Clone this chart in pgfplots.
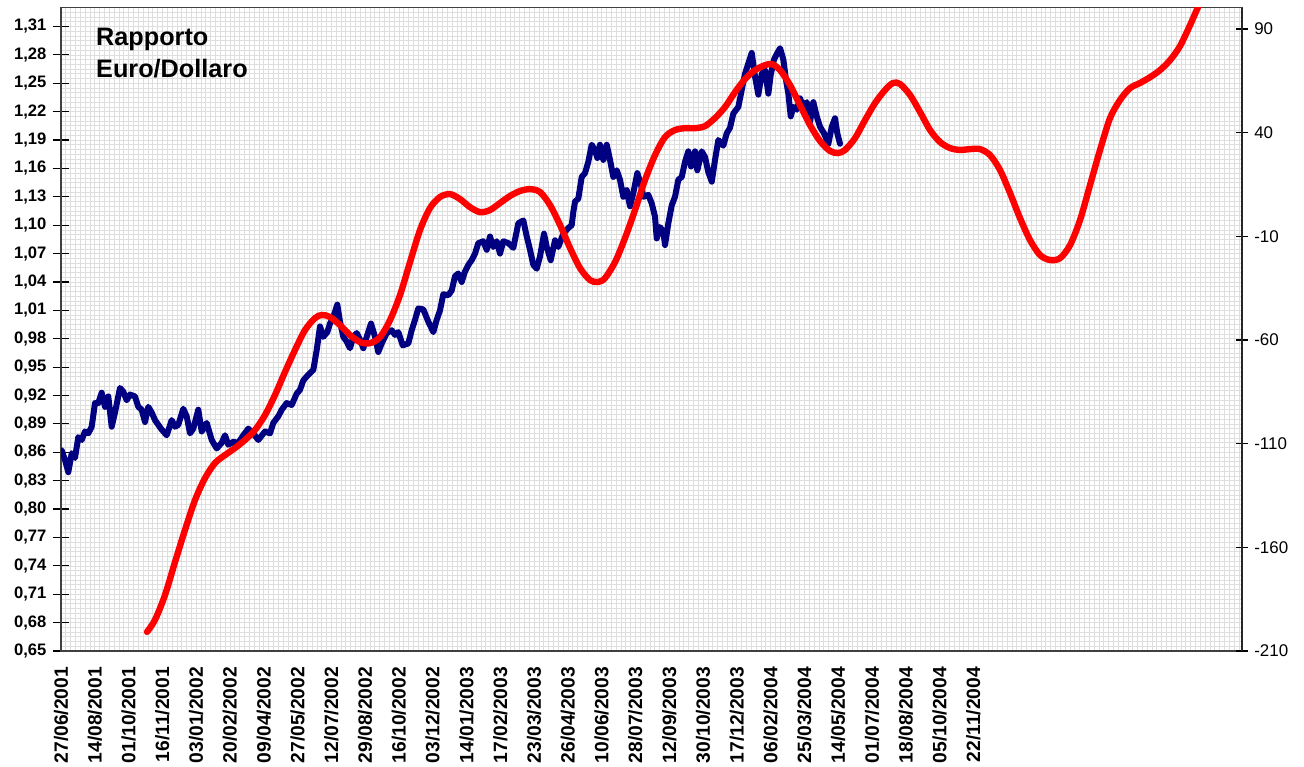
\documentclass[border=0pt]{standalone}
\usepackage{pgfplots}
\pgfplotsset{compat=1.18}
\usepackage{pgfplotstable}
\usepackage{fontspec}
\setmainfont{Liberation Sans}
\definecolor{navyline}{RGB}{0,0,128}
\definecolor{redline}{RGB}{255,0,0}
\definecolor{gridgray}{RGB}{222,222,222}

\pgfplotstableread{
x y
0.020 0.862
0.118 0.852
0.216 0.839
0.317 0.859
0.414 0.854
0.512 0.876
0.613 0.873
0.710 0.882
0.808 0.880
0.909 0.887
1.006 0.912
1.104 0.912
1.204 0.923
1.302 0.908
1.400 0.919
1.500 0.887
1.598 0.902
1.746 0.928
1.844 0.924
1.944 0.915
2.042 0.921
2.190 0.919
2.288 0.908
2.388 0.905
2.486 0.892
2.584 0.908
2.684 0.902
2.782 0.894
2.880 0.889
2.980 0.884
3.128 0.878
3.276 0.894
3.374 0.887
3.471 0.889
3.619 0.906
3.720 0.898
3.818 0.880
3.915 0.885
4.063 0.905
4.164 0.882
4.312 0.891
4.460 0.873
4.608 0.864
4.756 0.870
4.853 0.878
4.951 0.868
5.099 0.871
5.247 0.870
5.395 0.878
5.543 0.885
5.691 0.880
5.839 0.873
6.037 0.882
6.185 0.880
6.283 0.891
6.431 0.898
6.532 0.905
6.680 0.912
6.828 0.910
6.975 0.922
7.073 0.926
7.171 0.936
7.319 0.942
7.467 0.947
7.567 0.968
7.665 0.993
7.763 0.982
7.881 0.987
7.961 0.996
8.059 1.003
8.177 1.016
8.257 0.998
8.355 0.982
8.455 0.977
8.553 0.970
8.651 0.982
8.751 0.986
8.849 0.979
8.947 0.970
9.047 0.982
9.174 0.996
9.293 0.982
9.390 0.966
9.491 0.975
9.639 0.986
9.787 0.989
9.885 0.984
9.982 0.987
10.113 0.973
10.278 0.975
10.379 0.989
10.477 1.000
10.574 1.012
10.722 1.011
10.870 0.998
11.018 0.987
11.119 1.000
11.216 1.010
11.314 1.027
11.462 1.026
11.563 1.031
11.660 1.046
11.758 1.049
11.858 1.040
11.956 1.051
12.054 1.058
12.154 1.063
12.252 1.070
12.350 1.081
12.498 1.083
12.599 1.074
12.696 1.088
12.794 1.077
12.895 1.083
12.992 1.070
13.090 1.083
13.238 1.081
13.386 1.076
13.534 1.102
13.682 1.105
13.783 1.088
13.880 1.074
13.978 1.058
14.078 1.054
14.176 1.067
14.294 1.091
14.374 1.077
14.492 1.063
14.620 1.084
14.717 1.077
14.865 1.091
15.013 1.097
15.114 1.100
15.161 1.114
15.212 1.125
15.309 1.128
15.410 1.151
15.507 1.155
15.605 1.167
15.706 1.185
15.803 1.179
15.872 1.171
15.951 1.185
16.049 1.169
16.150 1.185
16.247 1.169
16.345 1.151
16.446 1.158
16.543 1.148
16.641 1.130
16.742 1.137
16.839 1.120
16.937 1.134
17.055 1.155
17.156 1.144
17.233 1.130
17.381 1.132
17.482 1.123
17.579 1.109
17.630 1.086
17.727 1.098
17.825 1.093
17.875 1.079
17.973 1.102
18.074 1.121
18.171 1.130
18.269 1.148
18.370 1.151
18.467 1.167
18.565 1.178
18.645 1.162
18.763 1.178
18.831 1.158
18.962 1.178
19.059 1.172
19.157 1.156
19.258 1.146
19.355 1.169
19.453 1.190
19.601 1.184
19.701 1.197
19.799 1.203
19.897 1.218
20.045 1.225
20.145 1.243
20.243 1.260
20.341 1.271
20.441 1.282
20.539 1.257
20.637 1.238
20.737 1.260
20.835 1.264
20.933 1.239
21.003 1.259
21.101 1.275
21.199 1.282
21.279 1.287
21.377 1.275
21.457 1.253
21.525 1.239
21.595 1.215
21.672 1.225
21.773 1.222
21.870 1.234
21.968 1.225
22.069 1.230
22.166 1.209
22.264 1.230
22.365 1.215
22.462 1.204
22.581 1.197
22.708 1.186
22.809 1.204
22.906 1.213
22.974 1.197
23.054 1.186
}\bluedata

\pgfplotstableread{
x y
2.545 -200.8
2.782 -195.0
3.078 -183.0
3.374 -167.1
3.670 -151.6
3.966 -137.2
4.262 -126.6
4.558 -119.3
4.853 -115.5
5.149 -112.1
5.445 -108.2
5.741 -103.4
6.037 -96.2
6.333 -86.5
6.629 -75.4
6.925 -64.8
7.221 -55.2
7.517 -49.4
7.724 -47.9
7.961 -48.9
8.257 -52.8
8.553 -57.6
8.849 -61.0
9.145 -61.5
9.441 -58.6
9.737 -50.4
10.033 -38.3
10.329 -22.4
10.625 -6.9
10.921 3.7
11.216 9.0
11.512 10.4
11.808 8.0
12.104 4.1
12.400 1.7
12.696 2.7
12.992 6.1
13.288 9.5
13.584 11.9
13.880 12.8
14.176 11.4
14.472 5.1
14.768 -4.5
15.064 -15.6
15.360 -25.3
15.656 -31.1
15.892 -32.0
16.100 -30.1
16.396 -22.4
16.691 -10.8
16.987 2.7
17.283 17.2
17.579 29.2
17.875 37.9
18.171 41.3
18.467 42.2
18.763 42.2
19.059 43.2
19.355 47.1
19.651 52.4
19.947 59.6
20.243 65.9
20.539 70.2
20.835 72.6
21.042 73.1
21.279 70.2
21.574 63.0
21.870 53.3
22.166 43.7
22.462 36.0
22.758 31.2
22.995 30.2
23.202 31.7
23.498 37.4
23.794 46.1
24.090 54.3
24.386 60.6
24.623 64.0
24.830 63.5
25.126 58.2
25.422 50.0
25.718 41.3
26.014 35.5
26.310 32.6
26.606 31.7
26.902 32.1
27.198 32.1
27.494 29.2
27.789 22.0
28.085 10.9
28.381 -1.2
28.677 -11.8
28.973 -19.0
29.269 -21.4
29.565 -20.5
29.861 -14.2
30.157 -2.1
30.453 14.8
30.749 31.7
31.045 47.1
31.341 55.8
31.637 61.5
31.933 64.0
32.229 66.8
32.524 70.2
32.820 75.0
33.116 81.8
33.412 91.9
33.649 100.6
33.797 105.4
}\reddata

\begin{document}
\begin{tikzpicture}
\useasboundingbox (0,0) rectangle (978bp,575.25bp);
\begin{axis}[
  at={(45.75bp,87bp)}, anchor=south west,
  scale only axis, width=885.75bp, height=482.6bp,
  xmin=0, xmax=34.95, ymin=0.65, ymax=1.33,
  xtick={0,1,...,27},
  xticklabels={27/06/2001,14/08/2001,01/10/2001,16/11/2001,03/01/2002,20/02/2002,09/04/2002,27/05/2002,12/07/2002,29/08/2002,16/10/2002,03/12/2002,14/01/2003,17/02/2003,23/03/2003,26/04/2003,10/06/2003,28/07/2003,12/09/2003,30/10/2003,17/12/2003,06/02/2004,25/03/2004,14/05/2004,01/07/2004,18/08/2004,05/10/2004,22/11/2004},
  ytick={0.65,0.68,0.71,0.74,0.77,0.80,0.83,0.86,0.89,0.92,0.95,0.98,1.01,1.04,1.07,1.10,1.13,1.16,1.19,1.22,1.25,1.28,1.31},
  minor xtick={0,0.142857,...,34.95},
  minor ytick={0.655,0.66,...,1.33},
  grid=both,
  major grid style={gridgray, line width=0.5bp},
  minor grid style={gridgray, line width=0.5bp},
  ytick pos=left,
  tick align=center,
  major tick length=12.5bp,
  minor tick length=0pt,
  xtick style={draw=none},
  ytick style={black, line width=0.9bp},
  axis line style={black!75, line width=1.2bp},
  xticklabel style={rotate=90, anchor=east, inner sep=0pt, font=\bfseries\fontsize{14.5}{16}\selectfont},
  xticklabel shift=5.5bp,
  yticklabel style={anchor=east, inner sep=0pt, font=\bfseries\fontsize{12.5}{14}\selectfont},
  yticklabel shift=4.5bp,
  /pgf/number format/.cd, use comma, fixed, fixed zerofill, precision=2, assume math mode=true,
]
\addplot[navyline, line width=4.5bp, line join=round, line cap=round] table[x=x,y=y] {\bluedata};
\node[anchor=base west, inner sep=0pt, font=\bfseries\fontsize{19}{23}\selectfont] at (rel axis cs:0.0296,0.9417) {Rapporto};
\node[anchor=base west, inner sep=0pt, font=\bfseries\fontsize{19}{23}\selectfont] at (rel axis cs:0.0296,0.892) {Euro/Dollaro};
\end{axis}
\begin{axis}[
  at={(45.75bp,87bp)}, anchor=south west,
  scale only axis, width=885.75bp, height=482.6bp,
  xmin=0, xmax=34.95, ymin=-210, ymax=100.4,
  axis x line=none, axis y line*=right,
  ytick={-210,-160,-110,-60,-10,40,90},
  tick align=center,
  major tick length=9bp,
  ytick style={black, line width=0.9bp},
  axis line style={black!85, line width=1.2bp},
  yticklabel style={anchor=west, inner sep=0pt, font=\fontsize{12.75}{15}\selectfont},
  yticklabel shift=4.5bp,
  /pgf/number format/assume math mode=true,
]
\addplot[redline, line width=4.8bp, smooth, line cap=round] table[x=x,y=y] {\reddata};
\end{axis}
\end{tikzpicture}
\end{document}
